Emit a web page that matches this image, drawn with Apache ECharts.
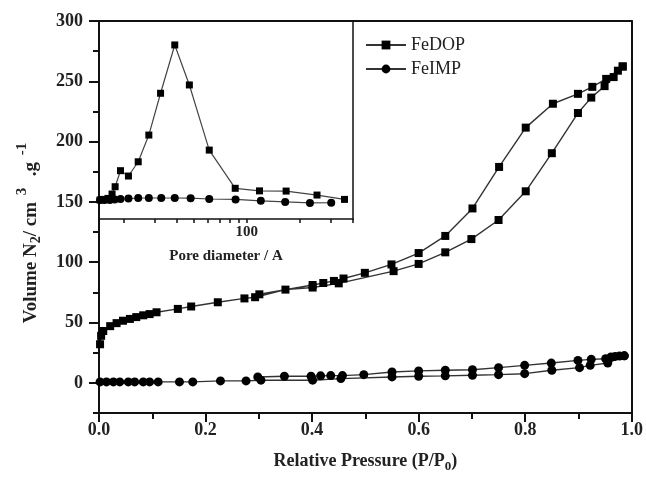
<!DOCTYPE html>
<html>
<head>
<meta charset="utf-8">
<script src="https://cdn.jsdelivr.net/npm/echarts@6/dist/echarts.min.js"></script>
<style>
html,body{margin:0;padding:0;background:#fff;}
#main{width:646px;height:478px;}
</style>
</head>
<body>
<div id="main"></div>
<script>
// N2 isotherms, adsorption branch then desorption branch
var dopAdsP = [0.002, 0.004, 0.008, 0.021, 0.033, 0.045, 0.058, 0.070, 0.083, 0.095, 0.108, 0.148, 0.173, 0.223, 0.273, 0.293, 0.350, 0.401, 0.450, 0.553, 0.600, 0.650, 0.699, 0.750, 0.801, 0.850, 0.899, 0.924, 0.949, 0.966, 0.983];
var dopAdsV = [32, 39, 43, 47, 49.5, 51.5, 53, 54.5, 56, 57, 58.5, 61.3, 63.3, 66.8, 70, 71, 77.3, 79, 82.5, 92.6, 98.6, 108.2, 119.2, 135, 158.8, 190.4, 223.7, 236.5, 246, 253.5, 262.3];
var dopDesP = [0.983, 0.974, 0.952, 0.926, 0.899, 0.852, 0.801, 0.751, 0.701, 0.650, 0.600, 0.549, 0.499, 0.459, 0.441, 0.421, 0.401, 0.301];
var dopDesV = [262.3, 258.8, 252, 245.4, 239.6, 231.4, 211.6, 179, 144.6, 121.8, 107.6, 98.2, 91.2, 86.5, 84.5, 82.8, 81.1, 73.4];

var impAdsP = [0.002, 0.014, 0.027, 0.039, 0.055, 0.067, 0.083, 0.095, 0.111, 0.151, 0.176, 0.228, 0.276, 0.304, 0.401, 0.454, 0.550, 0.600, 0.650, 0.701, 0.750, 0.799, 0.850, 0.902, 0.922, 0.955, 0.986];
var impAdsV = [0.8, 0.8, 0.8, 0.8, 0.8, 0.8, 0.8, 0.8, 0.8, 0.8, 0.8, 1.6, 1.6, 2.2, 2.2, 3.5, 4.9, 5.5, 5.8, 6.3, 6.8, 7.6, 10.4, 12.6, 14.5, 16.4, 22.4];
var impDesP = [0.986, 0.977, 0.969, 0.961, 0.951, 0.924, 0.899, 0.849, 0.799, 0.750, 0.701, 0.650, 0.600, 0.550, 0.497, 0.457, 0.435, 0.416, 0.398, 0.348, 0.298];
var impDesV = [22.4, 22.2, 21.9, 21.4, 20, 19.5, 18.6, 16.4, 14.5, 12.6, 10.9, 10.4, 9.9, 9.0, 6.8, 6.0, 6.0, 5.8, 5.5, 5.5, 4.9];

// inset: pore size distribution (arbitrary units)
var poreDop = [14.7, 15.3, 16.3, 17.2, 17.9, 19.2, 21.3, 24.2, 27.8, 32.4, 39.0, 47.2, 61.2, 85.9, 118, 167, 250, 358];
var poreDopY = [9.6, 9.9, 10.4, 12.6, 16.3, 24.4, 21.7, 28.9, 42.4, 63.5, 87.9, 67.7, 34.8, 15.5, 14.2, 14.1, 12.1, 9.9];
var poreImp = [14.7, 15.6, 16.7, 17.8, 19.2, 21.3, 24.2, 27.8, 32.7, 39.0, 48.0, 61.2, 86.3, 120, 165, 228, 301];
var poreImpY = [9.6, 9.6, 9.6, 9.9, 10.1, 10.3, 10.6, 10.6, 10.6, 10.6, 10.5, 10.1, 9.9, 9.2, 8.6, 8.1, 8.2];

var yLabels = [0, 50, 100, 150, 200, 250, 300];
var insetTicks = [20, 30, 40, 50, 60, 70, 80, 90, 100, 200, 300, 400];
var insetLabels = [100];

var serif = '"Liberation Serif","Times New Roman",serif';

function pairs(xs, ys) {
    return xs.map(function (x, i) { return [x, ys[i]]; });
}

var myChart = echarts.init(document.getElementById('main'));

var frame = { show: true, onZero: false, lineStyle: { color: '#111', width: 2 } };
var tickLbl = { fontFamily: serif, fontSize: 18, fontWeight: 'bold', color: '#222' };

var option = {
    backgroundColor: '#fff',
    animation: false,
    legend: {
        data: ['FeDOP', 'FeIMP'],
        orient: 'vertical',
        left: 360,
        top: 31,
        itemWidth: 40,
        itemHeight: 11,
        itemGap: 6,
        textStyle: { fontFamily: serif, fontSize: 18, color: '#222' }
    },
    grid: [
        { left: 99, right: 12, top: 21, bottom: 62 },
        { left: 99, top: 21, width: 254, height: 198 }
    ],
    xAxis: [
        {
            type: 'value', gridIndex: 0, min: 0, max: 1, interval: 0.2,
            axisLine: { show: true, onZero: false, lineStyle: { color: '#111', width: 2 } },
            axisTick: { length: 9, lineStyle: { width: 2, color: '#111' } },
            minorTick: { show: true, splitNumber: 2, length: 6, lineStyle: { width: 2, color: '#111' } },
            splitLine: { show: false },
            axisLabel: Object.assign({ margin: 8, formatter: function (v) { return v.toFixed(1); } }, tickLbl),
            name: '{a|Relative Pressure (P/P}{sub|0}{a|)}',
            nameLocation: 'middle',
            nameGap: 37,
            nameTextStyle: {
                rich: {
                    a: { fontFamily: serif, fontSize: 18, fontWeight: 'bold', color: '#222' },
                    sub: { fontFamily: serif, fontSize: 13, fontWeight: 'bold', color: '#222', padding: [10, 0, 0, 0] }
                }
            }
        },
        {
            type: 'value', gridIndex: 0, position: 'top', min: 0, max: 1,
            axisLine: frame, axisTick: { show: false }, axisLabel: { show: false }, splitLine: { show: false }
        },
        {
            type: 'log', gridIndex: 1, min: 14.5, max: 400,
            axisLine: { show: true, onZero: false, lineStyle: { color: '#111', width: 1.5 } },
            axisTick: { customValues: insetTicks, length: 4, lineStyle: { color: '#111', width: 1.5 } },
            splitLine: { show: false },
            axisLabel: { customValues: insetLabels, margin: 6, fontFamily: serif, fontSize: 15, fontWeight: 'bold', color: '#222' },
            name: 'Pore diameter / A',
            nameLocation: 'middle',
            nameGap: 30,
            nameTextStyle: { fontFamily: serif, fontSize: 15, fontWeight: 'bold', color: '#222' }
        }
    ],
    yAxis: [
        {
            type: 'value', gridIndex: 0, min: -25, max: 300, interval: 25,
            axisLine: { show: true, onZero: false, lineStyle: { color: '#111', width: 2 } },
            axisTick: { customValues: yLabels, length: 10, lineStyle: { width: 2, color: '#111' } },
            splitLine: { show: false },
            axisLabel: Object.assign({ customValues: yLabels, margin: 16 }, tickLbl),
            name: '{a|Volume N}{sub|2}{a|/ cm }{sup|3}{a|  .g }{sup|-1}',
            nameLocation: 'middle',
            nameRotate: 90,
            nameGap: 52,
            nameTextStyle: {
                padding: [0, 30, 0, 0],
                rich: {
                    a: { fontFamily: serif, fontSize: 19, fontWeight: 'bold', color: '#222' },
                    sub: { fontFamily: serif, fontSize: 14, fontWeight: 'bold', color: '#222', padding: [11, 0, 0, 0] },
                    sup: { fontFamily: serif, fontSize: 15, fontWeight: 'bold', color: '#222', padding: [0, 2, 17, 2] }
                }
            }
        },
        {
            type: 'value', gridIndex: 0, position: 'left', min: -25, max: 300, interval: 25,
            axisLine: { show: false, onZero: false },
            axisTick: { show: true, length: 6, lineStyle: { width: 2, color: '#111' } },
            axisLabel: { show: false }, splitLine: { show: false }
        },
        {
            type: 'value', gridIndex: 0, position: 'right', min: -25, max: 300,
            axisLine: frame, axisTick: { show: false }, axisLabel: { show: false }, splitLine: { show: false }
        },
        {
            type: 'value', gridIndex: 1, min: 0, max: 100,
            axisLine: { show: false, onZero: false }, axisTick: { show: false }, axisLabel: { show: false }, splitLine: { show: false }
        },
        {
            type: 'value', gridIndex: 1, position: 'right', min: 0, max: 100,
            axisLine: { show: true, onZero: false, lineStyle: { color: '#111', width: 1.5 } },
            axisTick: { show: false }, axisLabel: { show: false }, splitLine: { show: false }
        }
    ],
    series: [
        {
            name: 'FeDOP', type: 'line', xAxisIndex: 0, yAxisIndex: 0,
            data: pairs(dopAdsP, dopAdsV).concat(pairs(dopDesP, dopDesV)),
            symbol: 'rect', symbolSize: 8,
            itemStyle: { color: '#000' },
            lineStyle: { color: '#333', width: 1.4 }
        },
        {
            name: 'FeIMP', type: 'line', xAxisIndex: 0, yAxisIndex: 0,
            data: pairs(impAdsP, impAdsV).concat(pairs(impDesP, impDesV)),
            symbol: 'circle', symbolSize: 9,
            itemStyle: { color: '#000' },
            lineStyle: { color: '#333', width: 1.4 }
        },
        {
            name: 'FeDOP', type: 'line', xAxisIndex: 2, yAxisIndex: 3,
            data: pairs(poreDop, poreDopY),
            symbol: 'rect', symbolSize: 7,
            itemStyle: { color: '#000' },
            lineStyle: { color: '#444', width: 1.2 }
        },
        {
            name: 'FeIMP', type: 'line', xAxisIndex: 2, yAxisIndex: 3,
            data: pairs(poreImp, poreImpY),
            symbol: 'circle', symbolSize: 8,
            itemStyle: { color: '#000' },
            lineStyle: { color: '#444', width: 1.2 }
        }
    ]
};

myChart.setOption(option);

window.onresize = function () {
    myChart.resize();
};
</script>
</body>
</html>
